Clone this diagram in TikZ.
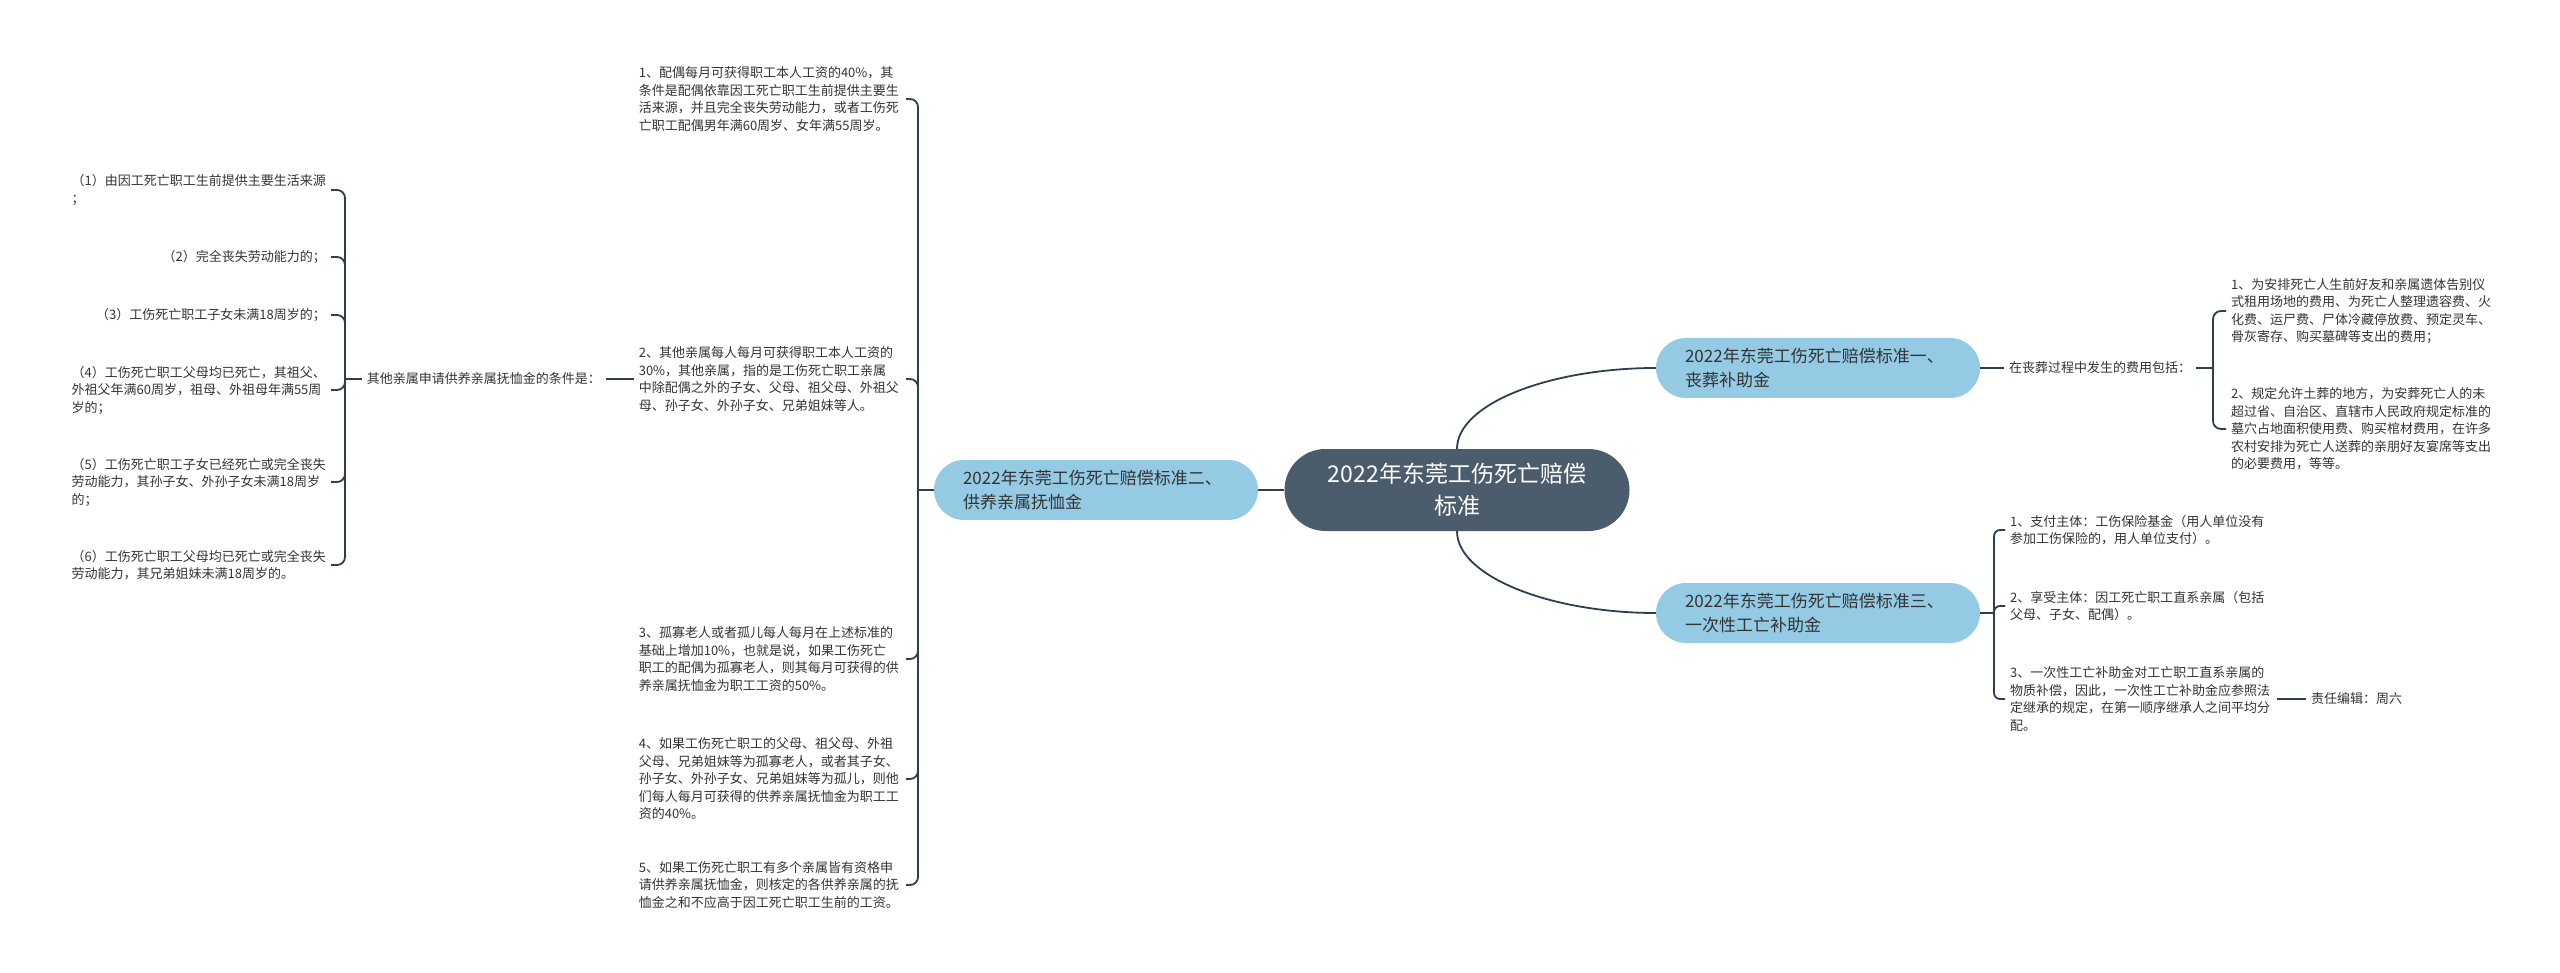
\documentclass[tikz,border=0pt]{standalone}
\usepackage{fontspec}
\setmainfont{Noto Sans CJK SC}

\definecolor{rootcol}{HTML}{4B5C6C}
\definecolor{topiccol}{HTML}{95CAE4}
\definecolor{edgecol}{HTML}{2C3E50}
\definecolor{textcol}{HTML}{333333}

\tikzset{
  edge/.style={draw=edgecol, line width=1.8pt},
  rootnode/.style={fill=rootcol, text=white, rounded corners=41pt, minimum width=345pt,
    minimum height=82pt, align=center, font=\fontsize{23pt}{32pt}\selectfont},
  topic/.style={fill=topiccol, text=textcol, rounded corners=30pt, minimum height=60pt,
    text width=266pt, inner xsep=29pt, align=left, font=\fontsize{17pt}{24pt}\selectfont},
  leaf/.style={text=textcol, align=left, inner xsep=5pt, font=\fontsize{13pt}{17.5pt}\selectfont},
  wleaf/.style={leaf, text width=262pt},
}

\begin{document}
\begin{tikzpicture}[x=1pt,y=-1pt]
\useasboundingbox (0,0) rectangle (2560,973);

% centre and main topics
\node[rootnode] (root) at (1457,490) {2022年东莞工伤死亡赔偿\\标准};
\node[topic] (t1) at (1818,368) {2022年东莞工伤死亡赔偿标准一、\\丧葬补助金};
\node[topic] (t2) at (1096,490) {2022年东莞工伤死亡赔偿标准二、\\供养亲属抚恤金};
\node[topic] (t3) at (1818,613) {2022年东莞工伤死亡赔偿标准三、\\一次性工亡补助金};
\draw[edge] (root.north) .. controls +(0,-45) and +(-106,0) .. (t1.west);
\draw[edge] (root.south) .. controls +(0,45) and +(-106,0) .. (t3.west);
\draw[edge] (root.west) -- (t2.east);

% funeral grant
\node[leaf, anchor=west] (fee) at (2004,368) {在丧葬过程中发生的费用包括：};
\draw[edge] (t1.east) -- (fee.west);
\coordinate (j1) at (2213,368);
\draw[edge] (fee.east) -- (j1);
\node[wleaf, anchor=west] (c1) at (2226,311) {1、为安排死亡人生前好友和亲属遗体告别仪\\式租用场地的费用、为死亡人整理遗容费、火\\化费、运尸费、尸体冷藏停放费、预定灵车、\\骨灰寄存、购买墓碑等支出的费用；};
\node[wleaf, anchor=west] (c2) at (2226,429) {2、规定允许土葬的地方，为安葬死亡人的未\\超过省、自治区、直辖市人民政府规定标准的\\墓穴占地面积使用费、购买棺材费用，在许多\\农村安排为死亡人送葬的亲朋好友宴席等支出\\的必要费用，等等。};
\foreach \kid in {c1,c2}
  \draw[edge, rounded corners=8pt] (j1) |- (\kid.west);

% one-off grant
\coordinate (j3) at (1994,613);
\draw[edge] (t3.east) -- (j3);
\node[wleaf, anchor=west] (d1) at (2005,530) {1、支付主体：工伤保险基金（用人单位没有\\参加工伤保险的，用人单位支付）。};
\node[wleaf, anchor=west] (d2) at (2005,606) {2、享受主体：因工死亡职工直系亲属（包括\\父母、子女、配偶）。};
\node[wleaf, anchor=west] (d3) at (2005,699) {3、一次性工亡补助金对工亡职工直系亲属的\\物质补偿，因此，一次性工亡补助金应参照法\\定继承的规定，在第一顺序继承人之间平均分\\配。};
\foreach \kid in {d1,d2,d3}
  \draw[edge, rounded corners=6pt] (j3) |- (\kid.west);
\node[leaf, anchor=west] (editor) at (2306,699) {责任编辑：周六};
\draw[edge] (d3.east) -- (editor.west);

% support pension
\coordinate (j2) at (918,490);
\draw[edge] (t2.west) -- (j2);
\node[wleaf, anchor=east] (e1) at (906,99) {1、配偶每月可获得职工本人工资的40\%，其\\条件是配偶依靠因工死亡职工生前提供主要生\\活来源，并且完全丧失劳动能力，或者工伤死\\亡职工配偶男年满60周岁、女年满55周岁。};
\node[wleaf, anchor=east] (e2) at (906,379) {2、其他亲属每人每月可获得职工本人工资的\\30\%，其他亲属，指的是工伤死亡职工亲属\\中除配偶之外的子女、父母、祖父母、外祖父\\母、孙子女、外孙子女、兄弟姐妹等人。};
\node[wleaf, anchor=east] (e3) at (906,659) {3、孤寡老人或者孤儿每人每月在上述标准的\\基础上增加10\%，也就是说，如果工伤死亡\\职工的配偶为孤寡老人，则其每月可获得的供\\养亲属抚恤金为职工工资的50\%。};
\node[wleaf, anchor=east] (e4) at (906,779) {4、如果工伤死亡职工的父母、祖父母、外祖\\父母、兄弟姐妹等为孤寡老人，或者其子女、\\孙子女、外孙子女、兄弟姐妹等为孤儿，则他\\们每人每月可获得的供养亲属抚恤金为职工工\\资的40\%。};
\node[wleaf, anchor=east] (e5) at (906,885) {5、如果工伤死亡职工有多个亲属皆有资格申\\请供养亲属抚恤金，则核定的各供养亲属的抚\\恤金之和不应高于因工死亡职工生前的工资。};
\foreach \kid in {e1,e2,e3,e4,e5}
  \draw[edge, rounded corners=8pt] (j2) |- (\kid.east);

% conditions for other relatives
\node[leaf, anchor=east] (cond) at (606,379) {其他亲属申请供养亲属抚恤金的条件是：};
\draw[edge] (e2.west) -- (cond.east);
\coordinate (j4) at (345,379);
\draw[edge] (cond.west) -- (j4);
\node[leaf, anchor=east] (g1) at (331,190) {（1）由因工死亡职工生前提供主要生活来源\\；};
\node[leaf, anchor=east] (g2) at (331,257) {（2）完全丧失劳动能力的；};
\node[leaf, anchor=east] (g3) at (331,315) {（3）工伤死亡职工子女未满18周岁的；};
\node[leaf, anchor=east] (g4) at (331,390) {（4）工伤死亡职工父母均已死亡，其祖父、\\外祖父年满60周岁，祖母、外祖母年满55周\\岁的；};
\node[leaf, anchor=east] (g5) at (331,482) {（5）工伤死亡职工子女已经死亡或完全丧失\\劳动能力，其孙子女、外孙子女未满18周岁\\的；};
\node[leaf, anchor=east] (g6) at (331,565) {（6）工伤死亡职工父母均已死亡或完全丧失\\劳动能力，其兄弟姐妹未满18周岁的。};
\foreach \kid in {g1,g2,g3,g4,g5,g6}
  \draw[edge, rounded corners=8pt] (j4) |- (\kid.east);
\end{tikzpicture}
\end{document}
